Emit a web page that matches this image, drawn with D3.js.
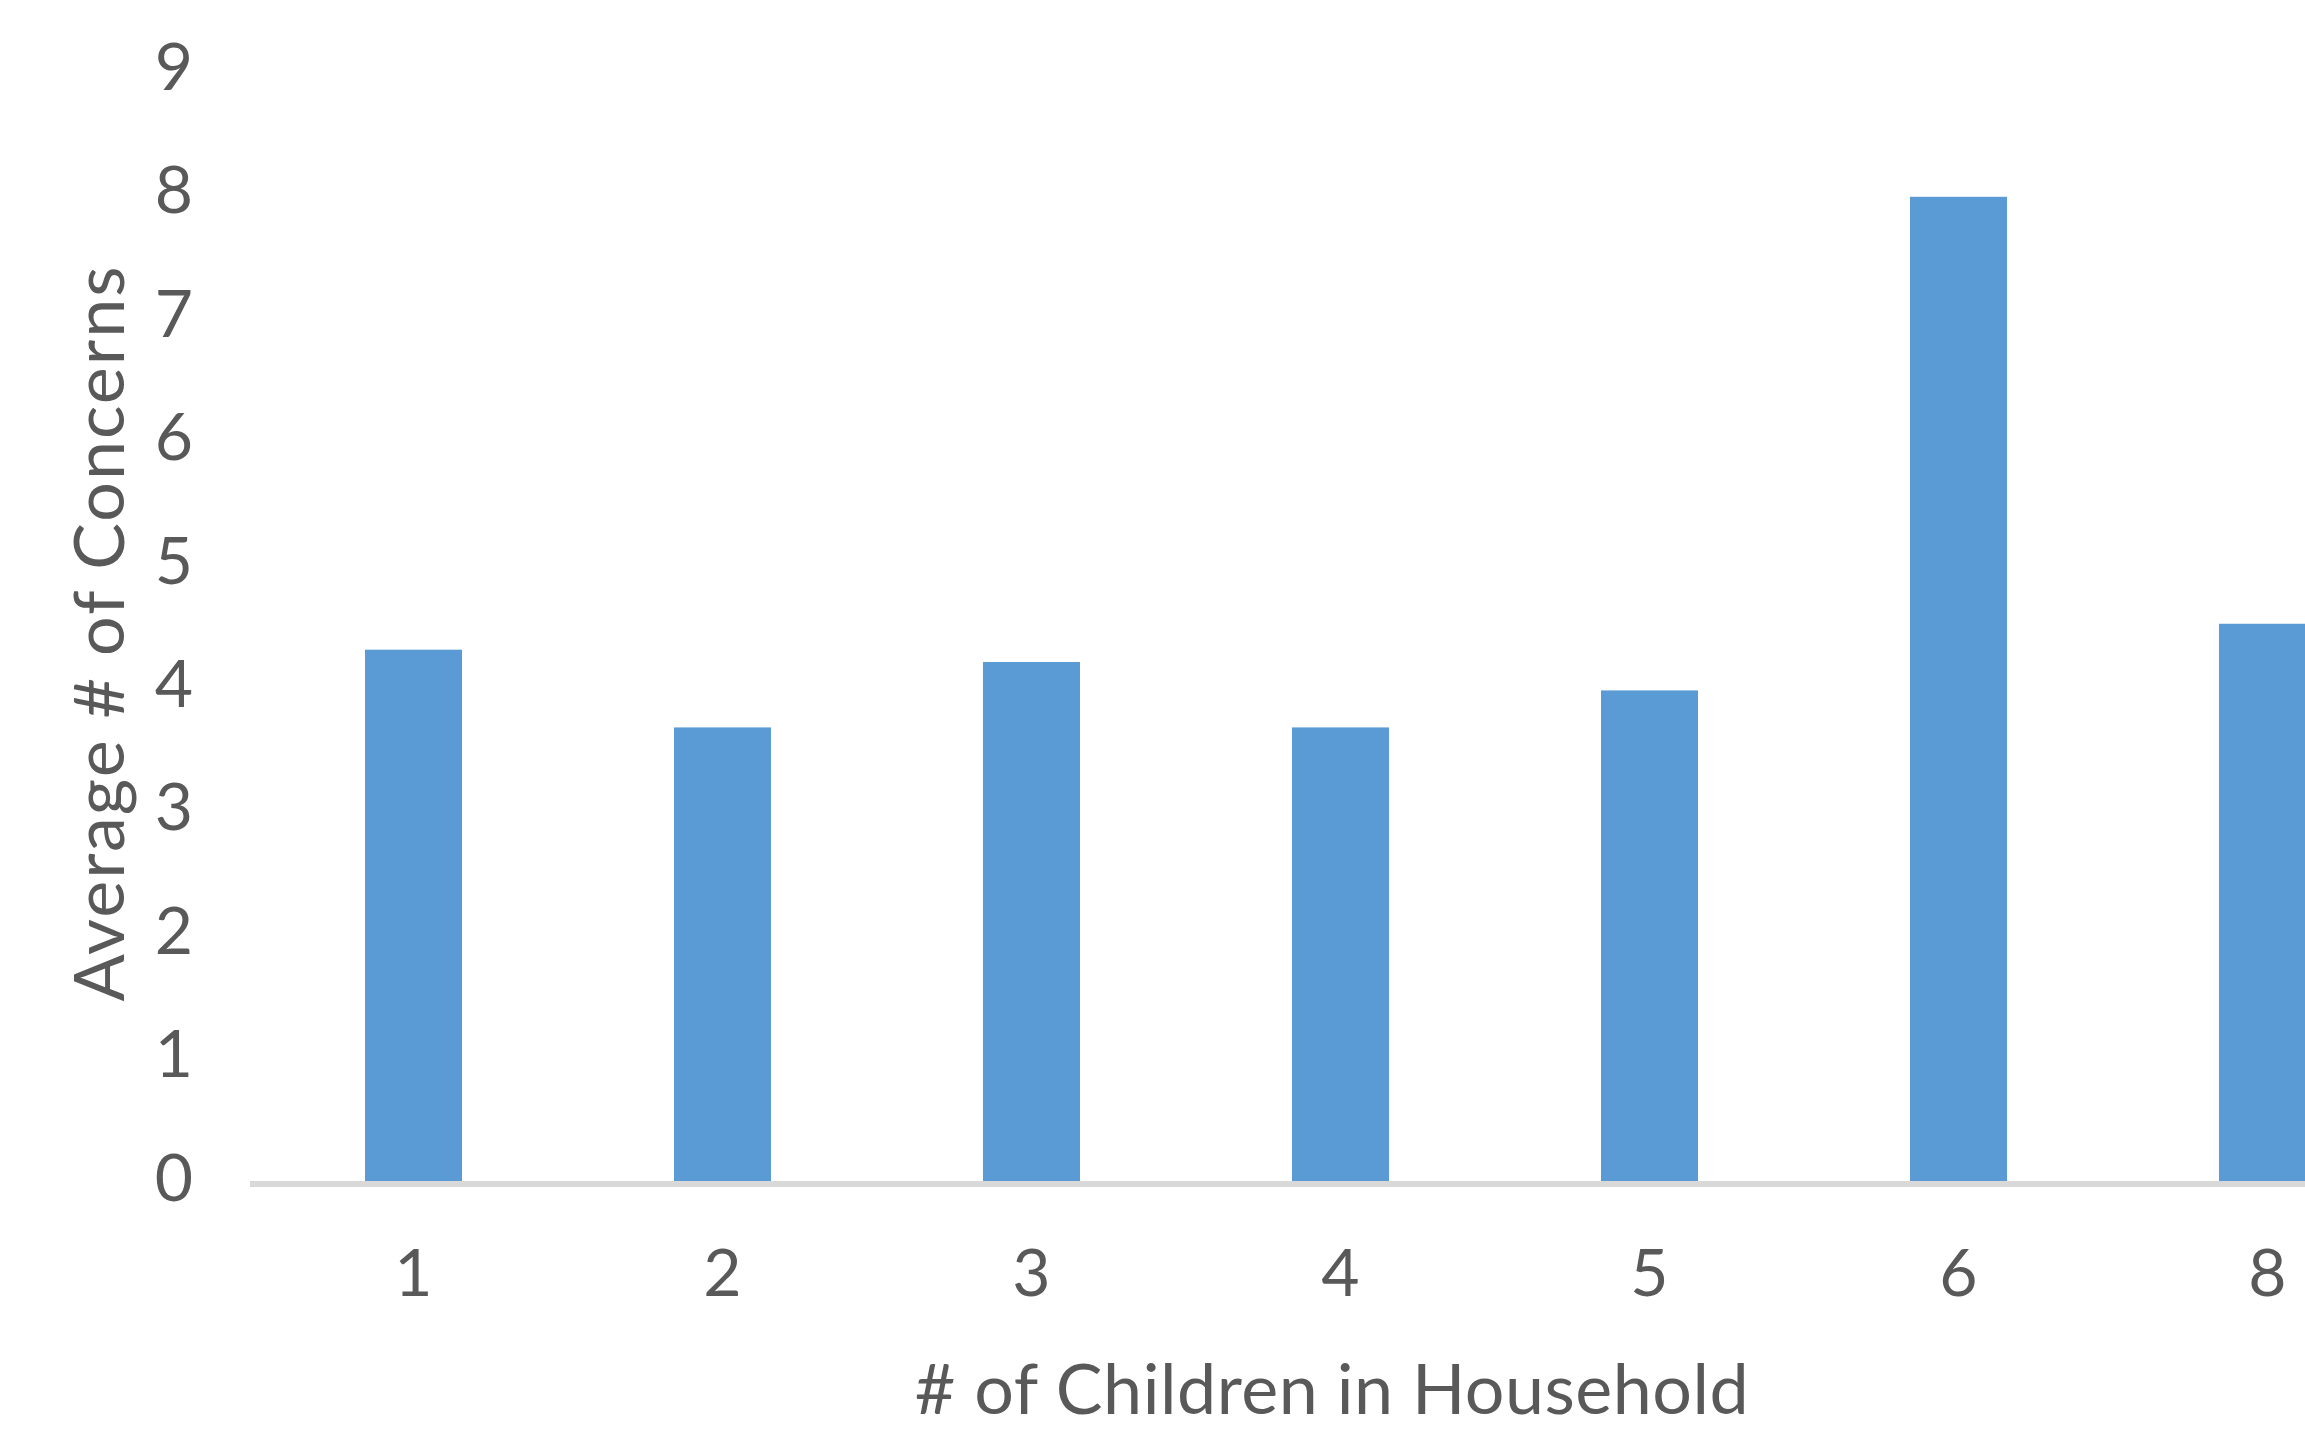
<!DOCTYPE html>
<html>
<head>
<meta charset="utf-8">
<script src="https://cdn.jsdelivr.net/npm/d3@7"></script>
<style>
  body { margin: 0; background: #fff; }
  svg { display: block; }
</style>
</head>
<body>
<svg id="chart" width="2305" height="1431"></svg>
<script>
// data
const categories = ["1", "2", "3", "4", "5", "6", "8"];
const avgConcerns = [4.33, 3.7, 4.23, 3.7, 4.0, 8.0, 4.54];
const yTicks = [0, 1, 2, 3, 4, 5, 6, 7, 8, 9];

const COLOR = { bar: "#5B9BD5", axis: "#D9D9D9", text: "#595959" };
const FONT = "Lato, 'Open Sans', sans-serif";

const svg = d3.select("#chart");

// plot runs past the right edge, like the cropped original
const x = d3.scaleBand()
  .domain(categories)
  .range([259, 2422])
  .paddingInner(0.686)
  .paddingOuter(0.343);

const y = d3.scaleLinear().domain([0, 9]).range([1184, 1184 - 9 * 123.4]);

// bars
svg.append("g")
  .selectAll("rect")
  .data(categories)
  .enter()
  .append("rect")
  .attr("x", d => x(d))
  .attr("width", x.bandwidth())
  .attr("y", (d, i) => y(avgConcerns[i]))
  .attr("height", (d, i) => y(0) - y(avgConcerns[i]))
  .style("fill", COLOR.bar);

// category axis line
svg.append("line")
  .attr("x1", 250)
  .attr("x2", 2305)
  .attr("y1", y(0))
  .attr("y2", y(0))
  .style("stroke", COLOR.axis)
  .style("stroke-width", 6);

// y axis labels
const yAxis = svg.append("g")
  .attr("transform", "translate(193,0)")
  .call(d3.axisLeft(y).tickValues(yTicks).tickSize(0).tickPadding(0).tickFormat(d3.format("d")));
yAxis.select(".domain").remove();
yAxis.selectAll("text")
  .attr("dy", null)
  .attr("y", 16)
  .style("font-family", FONT)
  .style("font-size", "66px")
  .style("fill", COLOR.text);

// x axis labels
const xAxis = svg.append("g")
  .attr("transform", "translate(0," + y(0) + ")")
  .call(d3.axisBottom(x).tickSize(0).tickPadding(0));
xAxis.select(".domain").remove();
xAxis.selectAll("text")
  .attr("dy", null)
  .attr("y", 112)
  .style("font-family", FONT)
  .style("font-size", "66px")
  .style("fill", COLOR.text);

// axis titles
svg.append("text")
  .attr("x", 1332)
  .attr("y", 1414)
  .attr("text-anchor", "middle")
  .style("font-family", FONT)
  .style("font-size", "70px")
  .style("letter-spacing", "0.5px")
  .style("fill", COLOR.text)
  .text("# of Children in Household");

svg.append("text")
  .attr("transform", "translate(124,633) rotate(-90)")
  .attr("text-anchor", "middle")
  .style("font-family", FONT)
  .style("font-size", "70px")
  .style("letter-spacing", "2px")
  .style("fill", COLOR.text)
  .text("Average # of Concerns");
</script>
</body>
</html>
